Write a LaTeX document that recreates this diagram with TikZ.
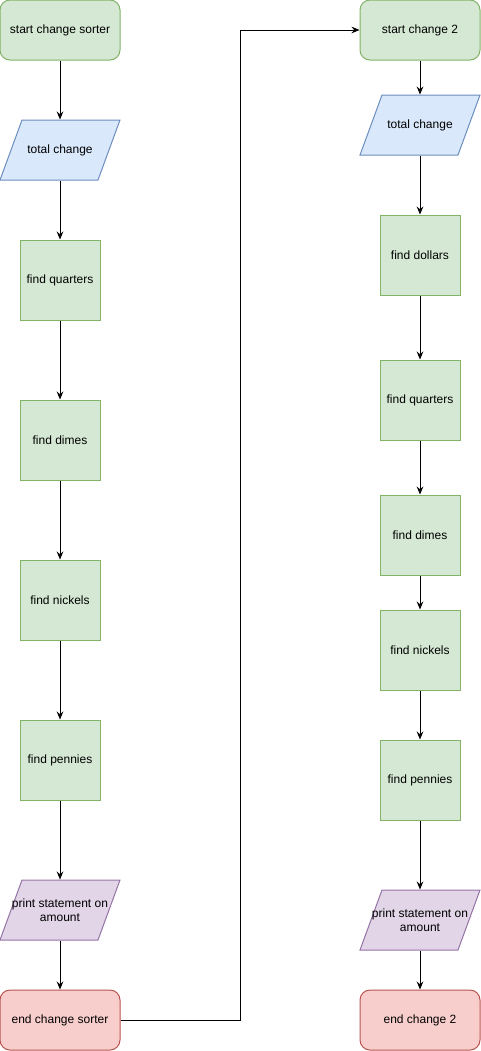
\documentclass[tikz,border=0pt]{standalone}
\usepackage{fontspec}
\setmainfont{Liberation Sans}
\usetikzlibrary{arrows.meta}

\definecolor{greenfill}{HTML}{D5E8D4}
\definecolor{greenline}{HTML}{82B366}
\definecolor{bluefill}{HTML}{DAE8FC}
\definecolor{blueline}{HTML}{6C8EBF}
\definecolor{purplefill}{HTML}{E1D5E7}
\definecolor{purpleline}{HTML}{9673A6}
\definecolor{redfill}{HTML}{F8CECC}
\definecolor{redline}{HTML}{B85450}

% slanted box behind an input/output node: centre x, centre y, line, fill
\newcommand{\slantbox}[4]{%
  \filldraw[draw=#3, fill=#4, line width=0.75pt]
    (#1-60, #2+30) -- (#1-38, #2-30) -- (#1+60, #2-30) -- (#1+38, #2+30) -- cycle;}

\tikzset{
  every node/.style = {font=\fontsize{9}{10.5}\selectfont, align=center, line width=0.75pt},
  terminal/.style = {draw=greenline, fill=greenfill, rounded corners=7.5pt, minimum width=90pt, minimum height=45pt},
  endterm/.style = {terminal, draw=redline, fill=redfill},
  iobox/.style = {minimum width=90pt, minimum height=45pt, inner sep=0pt},
  stepbox/.style = {draw=greenline, fill=greenfill, minimum width=60pt, minimum height=60pt},
  flow/.style = {line width=0.75pt, -{Stealth[length=6pt, width=5pt, inset=2pt]}}
}

\begin{document}
\begin{tikzpicture}[x = 0.75pt, y = -0.75pt]
\useasboundingbox (0, 0) rectangle (481, 1051);

% first sorter
\slantbox{60}{150}{blueline}{bluefill}
\slantbox{60}{910}{purpleline}{purplefill}
\node (start1) at (60, 30) [terminal] {start change sorter};
\node (total1) at (60, 150) [iobox] {total change};
\node (quarters1) at (60, 280) [stepbox] {find quarters};
\node (dimes1) at (60, 440) [stepbox] {find dimes};
\node (nickels1) at (60, 600) [stepbox] {find nickels};
\node (pennies1) at (60, 760) [stepbox] {find pennies};
\node (print1) at (60, 910) [iobox] {print statement on\\amount};
\node (end1) at (60, 1020) [endterm] {end change sorter};

% second sorter
\slantbox{420}{125}{blueline}{bluefill}
\slantbox{420}{920}{purpleline}{purplefill}
\node (start2) at (420, 30) [terminal] {start change 2};
\node (total2) at (420, 125) [iobox] {total change};
\node (dollars2) at (420, 255) [stepbox] {find dollars};
\node (quarters2) at (420, 400) [stepbox] {find quarters};
\node (dimes2) at (420, 535) [stepbox] {find dimes};
\node (nickels2) at (420, 650) [stepbox] {find nickels};
\node (pennies2) at (420, 780) [stepbox] {find pennies};
\node (print2) at (420, 920) [iobox] {print statement on\\amount};
\node (end2) at (420, 1020) [endterm] {end change 2};

\draw[flow] (start1) -- (total1);
\draw[flow] (total1) -- (quarters1);
\draw[flow] (quarters1) -- (dimes1);
\draw[flow] (dimes1) -- (nickels1);
\draw[flow] (nickels1) -- (pennies1);
\draw[flow] (pennies1) -- (print1);
\draw[flow] (print1) -- (end1);

\draw[flow] (end1.east) -- (240, 1020) -- (240, 30) -- (start2.west);

\draw[flow] (start2) -- (total2);
\draw[flow] (total2) -- (dollars2);
\draw[flow] (dollars2) -- (quarters2);
\draw[flow] (quarters2) -- (dimes2);
\draw[flow] (dimes2) -- (nickels2);
\draw[flow] (nickels2) -- (pennies2);
\draw[flow] (pennies2) -- (print2);
\draw[flow] (print2) -- (end2);

\end{tikzpicture}
\end{document}
